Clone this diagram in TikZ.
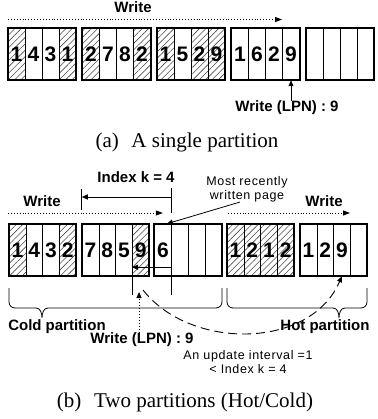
\documentclass[tikz,border=0pt]{standalone}
\usepackage{fontspec}
\setmainfont{Liberation Serif}
\newfontfamily\lblfont{Liberation Sans}
\usetikzlibrary{arrows.meta,patterns.meta}
\tikzset{
cell/.style={draw,line width=0.5pt,minimum width=#1,minimum height=52pt,inner sep=0pt,
  font=\lblfont\bfseries\fontsize{21}{24}\selectfont},
hatched/.style={pattern={Lines[angle=45,distance=4.5pt,line width=0.6pt]},pattern color=black!70},
plain/.style={},
frame/.style={line width=1.8pt},
lbl/.style={font=\lblfont\bfseries\fontsize{15}{17}\selectfont,inner sep=0pt},
note/.style={font=\lblfont\fontsize{12.5}{14}\selectfont\addfontfeatures{LetterSpace=5},inner sep=0pt,align=center},
capt/.style={font=\fontsize{21}{24}\selectfont,inner sep=0pt},
writeline/.style={dotted,line width=0.9pt,-{Triangle[length=7pt,width=5pt]}},
}
\begin{document}
\begin{tikzpicture}[x=1pt,y=-1pt,>={Triangle[length=6pt,width=5pt]}]
\useasboundingbox(0,0)rectangle(377,419);
% (a) a single partition
\foreach\b/\bx/\cells in{1/8/{1/hatched,4/plain,3/plain,1/hatched},2/82.5/{2/hatched,7/plain,8/plain,2/hatched},
  3/157/{1/hatched,5/plain,2/hatched,9/hatched},4/231.5/{1/plain,6/plain,2/plain,9/plain},
  5/306/{{}/plain,{}/plain,{}/plain,{}/plain}}{
\foreach\d/\s[count=\i]in\cells
\node[cell=17pt,\s](t\b-\i)at(\bx+\i*17-8.5,54){\d};
\draw[frame](t\b-1.north west)rectangle(t\b-4.south east);
}
\node[lbl,anchor=base](wa)at(133,12.5){Write};
\coordinate(wastart)at(8,19.5);
\draw[writeline](wastart)--(wastart-|282,0);
\node[lbl](lpna)at(287,108){Write (LPN) : 9};
\draw[line width=0.9pt,->](lpna.north-|t4-4)--(t4-4.south);
\node[capt](capa)at(187,142){(a)\hspace{0.6em}A single partition};
% (b) two partitions
\foreach\b/\bx/\cells in{1/9/{1/hatched,4/plain,3/plain,2/hatched},2/82/{7/plain,8/plain,5/plain,9/hatched},
  3/154.5/{6/plain,{}/plain,{}/plain,{}/plain},4/227/{1/hatched,2/hatched,1/hatched,2/hatched},
  5/300/{1/plain,2/plain,9/plain,{}/plain}}{
\foreach\d/\s[count=\i]in\cells
\node[cell=16.75pt,\s](b\b-\i)at(\bx+\i*16.75-8.375,250){\d};
\draw[frame](b\b-1.north west)rectangle(b\b-4.south east);
}
\node[lbl](idx)at(136,177){Index k = 4};
\draw[line width=0.8pt](b2-1.west|-0,189)--(b2-1.west|-0,210);
\draw[line width=0.8pt](b3-1.east|-0,188)--(b3-1.east|-0,213);
\draw[line width=0.8pt,->](b3-1.east|-0,197)--(b2-1.west|-0,197);
\node[note](mr)at(247,189){Most recently\\written page};
\draw[line width=0.8pt,->]([xshift=-7pt]mr.south)--([xshift=4pt]b3-1.north);
\node[lbl,anchor=base](wl)at(42,207){Write};
\coordinate(wlstart)at(8,213);
\draw[writeline](wlstart)--(b3-1.north|-wlstart);
\node[lbl,anchor=base](wr)at(324,207){Write};
\coordinate(wrstart)at(228,213);
\draw[writeline](wrstart)--(350,213);
% index k below the blocks
\draw[line width=0.8pt](b2-4.south west)--++(0,19);
\draw[line width=0.8pt](b3-1.south east)--++(0,19);
\coordinate(ik)at(b3-1.south east);
\draw[line width=0.8pt,->]([yshift=9pt]ik)--([yshift=9pt]b2-4.south west);
\node[lbl](lpnb)at(142,340){Write (LPN) : 9};
\coordinate(lpntip)at(139,292);
\draw[dotted,line width=1pt,->](lpnb.north-|lpntip)--(lpntip);
% dashed move into the hot partition
\coordinate(mvstart)at(143,290);
\draw[dash pattern=on 9pt off 5pt,line width=0.9pt,->](mvstart)..controls(190,350)and(310,350)..(b5-3.south);
% braces
\draw[line width=0.8pt](9,288)--(9,302)to[out=-90,in=180](15,308)--(36,308)to[out=0,in=90](42,318)
  to[out=90,in=180](48,308)--(216,308)to[out=0,in=-90](222,302)--(222,288);
\draw[line width=0.8pt](227,288)--(227,302)to[out=-90,in=180](233,308)--(333,308)to[out=0,in=90](339,318)
  to[out=90,in=180](345,308)--(361,308)to[out=0,in=-90](367,302)--(367,288);
\node[lbl](cold)at(57,327){Cold partition};
\node[lbl](hot)at(325,327){Hot partition};
\node[note](upd)at(248,362){An update interval =1\\< Index k = 4};
\node[capt](capb)at(185,402){(b)\hspace{0.6em}Two partitions (Hot/Cold)};
\end{tikzpicture}
\end{document}
